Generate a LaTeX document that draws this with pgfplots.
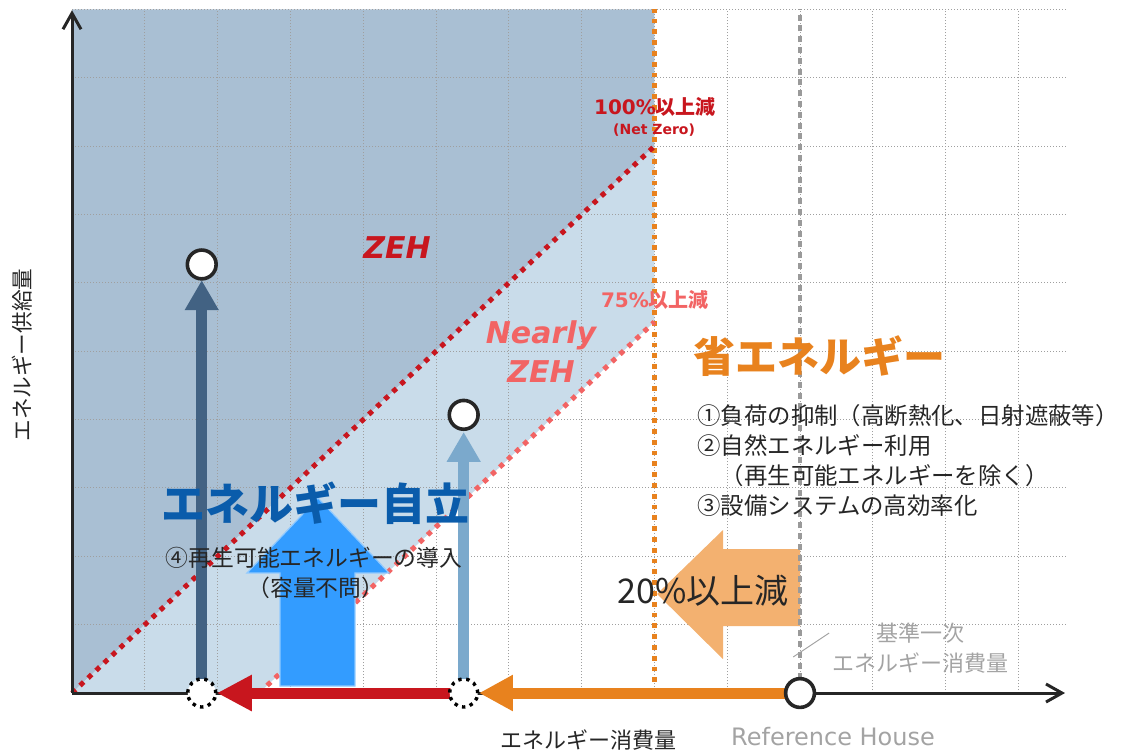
\documentclass[border=0pt]{standalone}
\usepackage{fontspec}
\usepackage{pgfplots}
\pgfplotsset{compat=1.18}
\usetikzlibrary{arrows.meta}
\setmainfont{Noto Sans CJK JP}
\newfontfamily\dv{DejaVu Sans}

\definecolor{zehdark}{HTML}{A9BFD3}
\definecolor{zehlight}{HTML}{C9DCEA}
\definecolor{zehred}{HTML}{C8161E}
\definecolor{nzehpink}{HTML}{F26464}
\definecolor{orgline}{HTML}{E8821E}
\definecolor{refgray}{HTML}{9A9A9A}
\definecolor{blockblue}{HTML}{339CFF}
\definecolor{blockorange}{HTML}{F3B170}
\definecolor{arrdark}{HTML}{426283}
\definecolor{arrlight}{HTML}{7BA9CC}
\definecolor{jiritsu}{HTML}{0A5CAB}
\definecolor{txt}{HTML}{262626}
\definecolor{gtxt}{HTML}{A3A3A3}

\tikzset{gridline/.style={gray!75, line width=0.5pt, dash pattern=on 0.5pt off 1pt}}

\begin{document}
\begin{tikzpicture}
\begin{axis}[
    name=ax,
    scale only axis,
    width=564pt, height=377pt,
    xmin=-0.989, xmax=14.505,
    ymin=-0.892, ymax=10.139,
    hide axis,
    clip=false,
]
% ZEH and Nearly ZEH regions
\addplot[draw=none, fill=zehdark] coordinates {(0,0) (0,10) (8,10) (8,8)} -- cycle;
\addplot[draw=none, fill=zehlight] coordinates {(0,0) (8,8) (8,5.43) (2.57,0)} -- cycle;

% grid
\pgfplotsinvokeforeach{1,...,13}{\draw[gridline] (axis cs:#1,0) -- (axis cs:#1,10);}
\pgfplotsinvokeforeach{1,...,10}{\draw[gridline] (axis cs:0,#1) -- (axis cs:13.64,#1);}

% boundaries
\addplot[line width=2.3pt, color=orgline, dash pattern=on 2.4pt off 3pt] coordinates {(8,0) (8,10)};
\addplot[line width=2.5pt, color=zehred, dash pattern=on 2.5pt off 3pt] coordinates {(0,0) (8,8)};
\addplot[line width=2.5pt, color=nzehpink, dash pattern=on 2.5pt off 3pt] coordinates {(2.57,0) (8,5.43)};

% block arrows
\addplot[fill=blockblue, draw=blockblue!55, line width=0.6pt] coordinates {(3.379,2.853) (4.354,1.756) (3.887,1.756) (3.887,0.102) (2.857,0.102) (2.857,1.756) (2.404,1.756)} -- cycle;
\addplot[fill=blockorange, draw=none] coordinates {(8.036,1.449) (8.942,2.385) (8.942,2.107) (10,2.107) (10,0.980) (8.942,0.980) (8.942,0.497)} -- cycle;

\addplot[line width=2.4pt, color=refgray, dash pattern=on 3pt off 2.4pt] coordinates {(10,0.2) (10,10)};

% axes
\draw[line width=1.5pt, txt, -{Straight Barb[length=8pt,width=9pt]}] (axis cs:0,0) -- (axis cs:0,9.99);
\draw[line width=1.5pt, txt, -{Straight Barb[length=8pt,width=9pt]}] (axis cs:0,0) -- (axis cs:13.64,0);

% vertical supply arrows
\addplot[color=arrdark, line width=5.3pt, -{Triangle[length=15pt,width=16pt]}] coordinates {(1.782,0) (1.782,6.04)};
\addplot[color=arrlight, line width=5.3pt, -{Triangle[length=15pt,width=16pt]}] coordinates {(5.38,0) (5.38,3.82)};

% horizontal consumption arrows
\addplot[color=zehred, line width=5.5pt, -{Triangle[length=17.5pt,width=17pt]}] coordinates {(5.38,0) (1.99,0)};
\addplot[color=orgline, line width=5.5pt, -{Triangle[length=17pt,width=17pt]}] coordinates {(10,0) (5.59,0)};

% points
\addplot[only marks, mark=*, mark size=7pt, mark options={fill=white, draw=black, line width=1.7pt, dash pattern=on 1.7pt off 2.3pt}] coordinates {(1.782,0) (5.38,0)};
\addplot[only marks, mark=*, mark size=7.2pt, mark options={fill=white, draw=txt, line width=1.8pt}] coordinates {(1.782,6.27) (5.38,4.07) (10,0)};

% labels
\node[zehred] at (axis cs:8.008,8.574) {{\dv\bfseries\fontsize{10}{12}\selectfont 100\%}{\bfseries\fontsize{10}{12}\selectfont 以上減}};
\node[zehred] at (axis cs:7.995,8.237) {\dv\bfseries\fontsize{7}{8}\selectfont (Net Zero)};
\node[nzehpink] at (axis cs:8.008,5.75) {{\dv\bfseries\fontsize{10}{12}\selectfont 75\%}{\bfseries\fontsize{10}{12}\selectfont 以上減}};
\node[zehred] at (axis cs:4.464,6.51) {\dv\bfseries\itshape\fontsize{15}{18}\selectfont ZEH};
\node[nzehpink] at (axis cs:6.442,5.238) {\dv\bfseries\itshape\fontsize{15}{18}\selectfont Nearly};
\node[nzehpink] at (axis cs:6.442,4.696) {\dv\bfseries\itshape\fontsize{15}{18}\selectfont ZEH};

\node[orgline, anchor=west, inner sep=0pt] at (axis cs:8.53,4.93) {\bfseries\fontsize{21}{25}\selectfont 省エネルギー};
\node[txt, anchor=west, inner sep=0pt] at (axis cs:8.585,4.053) {\fontsize{11.7}{14}\selectfont ①負荷の抑制（高断熱化、日射遮蔽等）};
\node[txt, anchor=west, inner sep=0pt] at (axis cs:8.585,3.614) {\fontsize{11.7}{14}\selectfont ②自然エネルギー利用};
\node[txt, anchor=west, inner sep=0pt] at (axis cs:8.585,3.175) {\fontsize{11.7}{14}\selectfont \hspace*{1em}（再生可能エネルギーを除く）};
\node[txt, anchor=west, inner sep=0pt] at (axis cs:8.585,2.736) {\fontsize{11.7}{14}\selectfont ③設備システムの高効率化};

\node[jiritsu] at (axis cs:3.338,2.78) {\bfseries\fontsize{22}{26}\selectfont エネルギー自立};
\node[txt] at (axis cs:3.325,1.975) {\fontsize{11.4}{14}\selectfont ④再生可能エネルギーの導入};
\node[txt] at (axis cs:3.35,1.536) {\fontsize{11.4}{14}\selectfont （容量不問）};

\node[txt] at (axis cs:8.668,1.49) {\fontsize{17}{20}\selectfont 20\%以上減};

\draw[gtxt, line width=0.5pt] (axis cs:9.906,0.527) -- (axis cs:10.4,0.878);
\node[gtxt] at (axis cs:11.66,0.878) {\fontsize{11}{13}\selectfont 基準一次};
\node[gtxt] at (axis cs:11.66,0.439) {\fontsize{11}{13}\selectfont エネルギー消費量};

\node[txt] at (axis cs:7.088,-0.688) {\fontsize{11}{13}\selectfont エネルギー消費量};
\node[gtxt] at (axis cs:10.453,-0.644) {\dv\fontsize{12}{14}\selectfont Reference House};
\node[txt, rotate=90] at (axis cs:-0.687,4.945) {\fontsize{10.8}{13}\selectfont エネルギー供給量};
\end{axis}
\pgfresetboundingbox
\path[use as bounding box] (ax.south west) rectangle (ax.north east);
\end{tikzpicture}
\end{document}
